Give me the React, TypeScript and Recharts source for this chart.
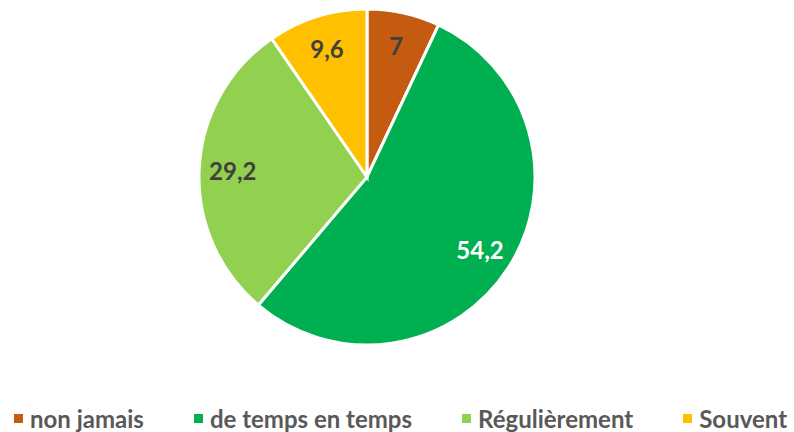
import { PieChart, Pie, Cell, Legend } from 'recharts';

const categories = ['non jamais', 'de temps en temps', 'Régulièrement', 'Souvent'];
const values = [7, 54.2, 29.2, 9.6];
const COLORS = ['#C55A11', '#00B050', '#92D050', '#FFC000'];
const LABEL_COLORS = ['#404040', '#FFFFFF', '#404040', '#404040'];

const pieData = categories.map((name, i) => ({ name, value: values[i] }));

const RADIAN = Math.PI / 180;

const renderLabel = (props: any) => {
    const { cx, cy, midAngle, outerRadius, index, value } = props;
    const r = outerRadius * 0.8;
    const x = cx + r * Math.cos(-midAngle * RADIAN);
    const y = cy + r * Math.sin(-midAngle * RADIAN);
    return (
        <text
            x={x}
            y={y}
            fill={LABEL_COLORS[index]}
            textAnchor="middle"
            dominantBaseline="central"
            style={{ fontFamily: 'Lato', fontWeight: 700, fontSize: 24 }}
        >
            {String(value).replace('.', ',')}
        </text>
    );
};

const renderLegend = () => (
    <div style={{ display: 'flex', gap: 50, paddingLeft: 14, fontFamily: 'Lato', fontWeight: 700, fontSize: 24, color: '#595959' }}>
        {categories.map((c, i) => (
            <div key={c} style={{ display: 'flex', alignItems: 'center' }}>
                <span style={{ width: 9, height: 9, background: COLORS[i], marginRight: 7, display: 'inline-block' }} />
                <span>{c}</span>
            </div>
        ))}
    </div>
);

export default function App() {
    return (
        <div style={{ position: 'absolute', left: 0, top: 0, width: 794, height: 432, background: '#fff' }}>
            <PieChart width={794} height={432} margin={{ top: 0, right: 0, bottom: 0, left: 0 }}>
                <Pie
                    data={pieData}
                    dataKey="value"
                    cx={367}
                    cy={177}
                    outerRadius={168}
                    startAngle={90}
                    endAngle={-270}
                    stroke="#FFFFFF"
                    strokeWidth={3}
                    label={renderLabel}
                    labelLine={false}
                    isAnimationActive={false}
                >
                    {pieData.map((_, index) => (
                        <Cell key={`cell-${index}`} fill={COLORS[index]} />
                    ))}
                </Pie>
                <Legend
                    content={renderLegend}
                    layout="horizontal"
                    verticalAlign="bottom"
                    align="left"
                    wrapperStyle={{ left: 0, bottom: 0, top: 404, width: 794 }}
                />
            </PieChart>
        </div>
    );
}
